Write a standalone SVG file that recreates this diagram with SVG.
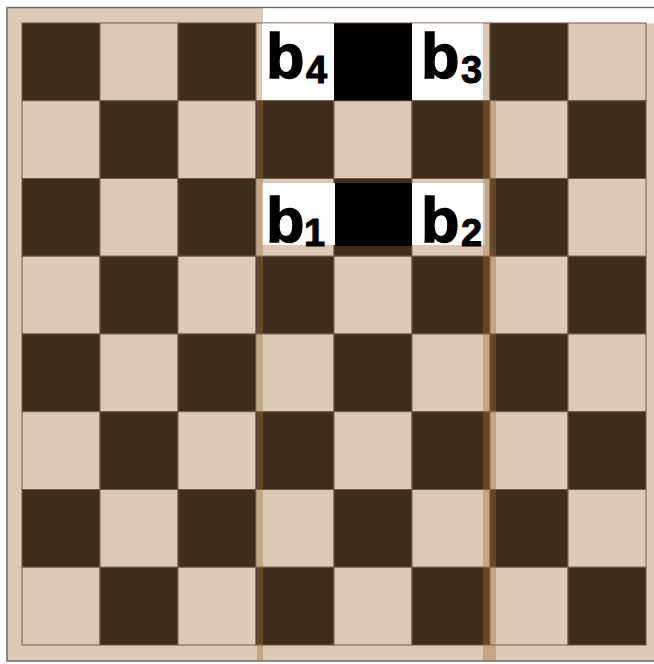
<svg xmlns="http://www.w3.org/2000/svg" width="654" height="664" viewBox="0 0 654 664">
<style>
.d{fill:#3f2d1b;stroke:#6f5d4a;stroke-width:1}
.l{fill:#dccab6;stroke:#6f5d4a;stroke-width:1}
.w{fill:#ffffff}
.k{fill:#000000}
.st{fill:#a06e3c;opacity:0.4}
.lbl{font-family:"Liberation Sans",Arial,Helvetica,sans-serif;font-weight:bold;font-size:63px;fill:#000;stroke:#000;stroke-width:1.4}
.sub{font-size:38px;stroke-width:1}
</style>
<rect width="654" height="664" fill="#ffffff"/>
<g id="frame">
<rect x="7" y="7.5" width="660" height="653.5" fill="#dccab6" stroke="#6a6a6a" stroke-width="1.5"/>
<rect x="263" y="8.3" width="391" height="15" fill="#ffffff"/>
</g>
<g id="board">
<rect class="d" x="22" y="23" width="78" height="77.75"/><rect class="l" x="100" y="23" width="78" height="77.75"/><rect class="d" x="178" y="23" width="78" height="77.75"/><rect class="l" x="256" y="23" width="78" height="77.75"/><rect class="d" x="334" y="23" width="78" height="77.75"/><rect class="l" x="412" y="23" width="78" height="77.75"/><rect class="d" x="490" y="23" width="78" height="77.75"/><rect class="l" x="568" y="23" width="78" height="77.75"/>
<rect class="l" x="22" y="100.75" width="78" height="77.75"/><rect class="d" x="100" y="100.75" width="78" height="77.75"/><rect class="l" x="178" y="100.75" width="78" height="77.75"/><rect class="d" x="256" y="100.75" width="78" height="77.75"/><rect class="l" x="334" y="100.75" width="78" height="77.75"/><rect class="d" x="412" y="100.75" width="78" height="77.75"/><rect class="l" x="490" y="100.75" width="78" height="77.75"/><rect class="d" x="568" y="100.75" width="78" height="77.75"/>
<rect class="d" x="22" y="178.5" width="78" height="77.75"/><rect class="l" x="100" y="178.5" width="78" height="77.75"/><rect class="d" x="178" y="178.5" width="78" height="77.75"/><rect class="l" x="256" y="178.5" width="78" height="77.75"/><rect class="d" x="334" y="178.5" width="78" height="77.75"/><rect class="l" x="412" y="178.5" width="78" height="77.75"/><rect class="d" x="490" y="178.5" width="78" height="77.75"/><rect class="l" x="568" y="178.5" width="78" height="77.75"/>
<rect class="l" x="22" y="256.25" width="78" height="77.75"/><rect class="d" x="100" y="256.25" width="78" height="77.75"/><rect class="l" x="178" y="256.25" width="78" height="77.75"/><rect class="d" x="256" y="256.25" width="78" height="77.75"/><rect class="l" x="334" y="256.25" width="78" height="77.75"/><rect class="d" x="412" y="256.25" width="78" height="77.75"/><rect class="l" x="490" y="256.25" width="78" height="77.75"/><rect class="d" x="568" y="256.25" width="78" height="77.75"/>
<rect class="d" x="22" y="334" width="78" height="77.75"/><rect class="l" x="100" y="334" width="78" height="77.75"/><rect class="d" x="178" y="334" width="78" height="77.75"/><rect class="l" x="256" y="334" width="78" height="77.75"/><rect class="d" x="334" y="334" width="78" height="77.75"/><rect class="l" x="412" y="334" width="78" height="77.75"/><rect class="d" x="490" y="334" width="78" height="77.75"/><rect class="l" x="568" y="334" width="78" height="77.75"/>
<rect class="l" x="22" y="411.75" width="78" height="77.75"/><rect class="d" x="100" y="411.75" width="78" height="77.75"/><rect class="l" x="178" y="411.75" width="78" height="77.75"/><rect class="d" x="256" y="411.75" width="78" height="77.75"/><rect class="l" x="334" y="411.75" width="78" height="77.75"/><rect class="d" x="412" y="411.75" width="78" height="77.75"/><rect class="l" x="490" y="411.75" width="78" height="77.75"/><rect class="d" x="568" y="411.75" width="78" height="77.75"/>
<rect class="d" x="22" y="489.5" width="78" height="77.75"/><rect class="l" x="100" y="489.5" width="78" height="77.75"/><rect class="d" x="178" y="489.5" width="78" height="77.75"/><rect class="l" x="256" y="489.5" width="78" height="77.75"/><rect class="d" x="334" y="489.5" width="78" height="77.75"/><rect class="l" x="412" y="489.5" width="78" height="77.75"/><rect class="d" x="490" y="489.5" width="78" height="77.75"/><rect class="l" x="568" y="489.5" width="78" height="77.75"/>
<rect class="l" x="22" y="567.25" width="78" height="77.75"/><rect class="d" x="100" y="567.25" width="78" height="77.75"/><rect class="l" x="178" y="567.25" width="78" height="77.75"/><rect class="d" x="256" y="567.25" width="78" height="77.75"/><rect class="l" x="334" y="567.25" width="78" height="77.75"/><rect class="d" x="412" y="567.25" width="78" height="77.75"/><rect class="l" x="490" y="567.25" width="78" height="77.75"/><rect class="d" x="568" y="567.25" width="78" height="77.75"/>
</g>
<g id="cells">
<rect class="w" x="262" y="23.5" width="72" height="76.5"/>
<rect class="k" x="334" y="23.5" width="78" height="77"/>
<rect class="w" x="412" y="23.5" width="71" height="76.5"/>
<rect class="w" x="262" y="183" width="73" height="62"/>
<rect class="k" x="335" y="183" width="77" height="63"/>
<rect class="w" x="412" y="183" width="73" height="62"/>
</g>
<g id="stripes">
<rect class="st" x="257" y="100" width="6" height="561"/>
<rect class="st" x="483" y="100" width="13" height="561"/>
</g>
<g id="labels">
<text class="lbl" x="266" y="78">b<tspan class="sub" x="306" y="83">4</tspan></text>
<text class="lbl" x="421" y="78">b<tspan class="sub" x="461" y="83">3</tspan></text>
<text class="lbl" x="266" y="242">b<tspan class="sub" x="304" y="246">1</tspan></text>
<text class="lbl" x="421" y="242">b<tspan class="sub" x="461" y="246">2</tspan></text>
</g>
</svg>
